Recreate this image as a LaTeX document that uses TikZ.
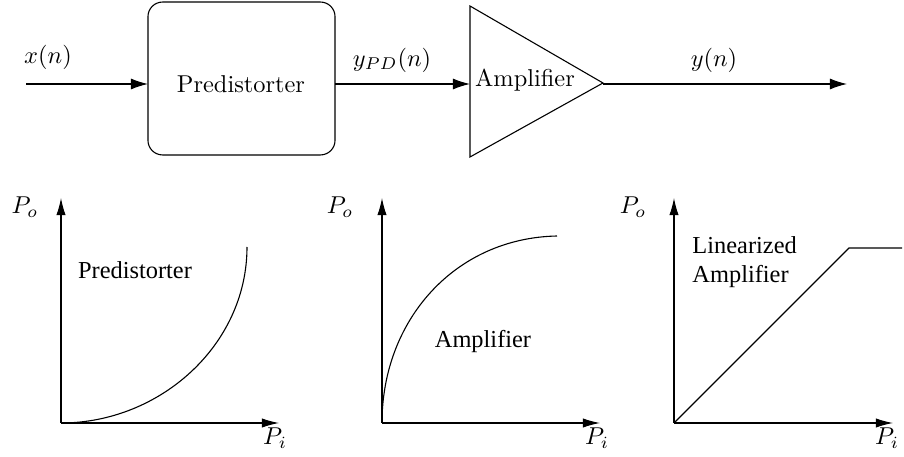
\documentclass[tikz,border=0pt]{standalone}
\usepackage{fontspec}
\newfontfamily\timesfont{Liberation Serif}
\usetikzlibrary{arrows.meta}
\begin{document}
\begin{tikzpicture}[x=0.41pt,y=-0.41pt,
  conn/.style={-{Latex[length=7pt,width=4.5pt]}, line width=0.45pt},
  axis/.style={-{Latex[length=7pt,width=3.8pt]}, line width=0.45pt},
  lbl/.style={inner sep=0pt},
  crv/.style={line width=0.45pt},
  blk/.style={draw, line width=0.45pt, rounded corners=6pt, minimum width=76.7pt, minimum height=62.7pt, inner sep=0pt}]
\useasboundingbox (0,0) rectangle (904,457);
% ---- top chain ----
\coordinate (xin) at (26,84);
\node[blk] (pd) at (241.5,78.5) {};
\node[lbl] (pdtext) at (241,84) {Predistorter};
\coordinate (pdin) at (148,84);
\coordinate (pdout) at (335,84);
\draw[conn] (xin) -- (pdin);
\node[lbl] (xlab) at (48,57) {$x(n)$};
% amplifier triangle
\coordinate (a1) at (470,6);
\coordinate (a2) at (603,83);
\coordinate (a3) at (470,157);
\draw[line width=0.45pt] (a1) -- (a2) -- (a3) -- cycle;
\node[lbl] (amptext) at (525,80) {Amplifier};
\coordinate (ampin) at (470,84);
\coordinate (ampout) at (603,84);
\draw[conn] (pdout) -- (ampin);
\node[lbl] (ypdlab) at (392,60) {$y_{PD}(n)$};
\coordinate (yout) at (847,84);
\draw[conn] (ampout) -- (yout);
\node[lbl] (ylab) at (714,60) {$y(n)$};
% ---- graph 1 ----
\coordinate (o1) at (61,423);
\coordinate (y1) at (61,198);
\coordinate (x1) at (279,423);
\draw[axis] (o1) -- (y1);
\draw[axis] (o1) -- (x1);
\node[lbl] (po1) at (25,207) {$P_o$};
\node[lbl] (pi1) at (275,438) {$P_i$};
\coordinate (e1) at (247,247);
\draw[crv] (o1) .. controls (160,423) and (247,345) .. (e1);
\node[lbl] (g1) at (135,270) {\timesfont Predistorter};
% ---- graph 2 ----
\coordinate (o2) at (382,423);
\coordinate (y2) at (382,198);
\coordinate (x2) at (600,423);
\draw[axis] (o2) -- (y2);
\draw[axis] (o2) -- (x2);
\node[lbl] (po2) at (340,207) {$P_o$};
\node[lbl] (pi2) at (597,438) {$P_i$};
\coordinate (e2) at (557,236);
\draw[crv] (o2) .. controls (382,320) and (455,238) .. (e2);
\node[lbl] (g2) at (483,342) {\timesfont Amplifier};
% ---- graph 3 ----
\coordinate (o3) at (674,423);
\coordinate (y3) at (674,198);
\coordinate (x3) at (893,423);
\draw[axis] (o3) -- (y3);
\draw[axis] (o3) -- (x3);
\node[lbl] (po3) at (633,207) {$P_o$};
\node[lbl] (pi3) at (887,438) {$P_i$};
\coordinate (k3) at (849,248);
\coordinate (e3) at (902,248);
\draw[crv] (o3) -- (k3) -- (e3);
\node[lbl, anchor=west, align=left] (g3) at (692,262) {\timesfont Linearized\\\timesfont Amplifier};
\end{tikzpicture}
\end{document}
